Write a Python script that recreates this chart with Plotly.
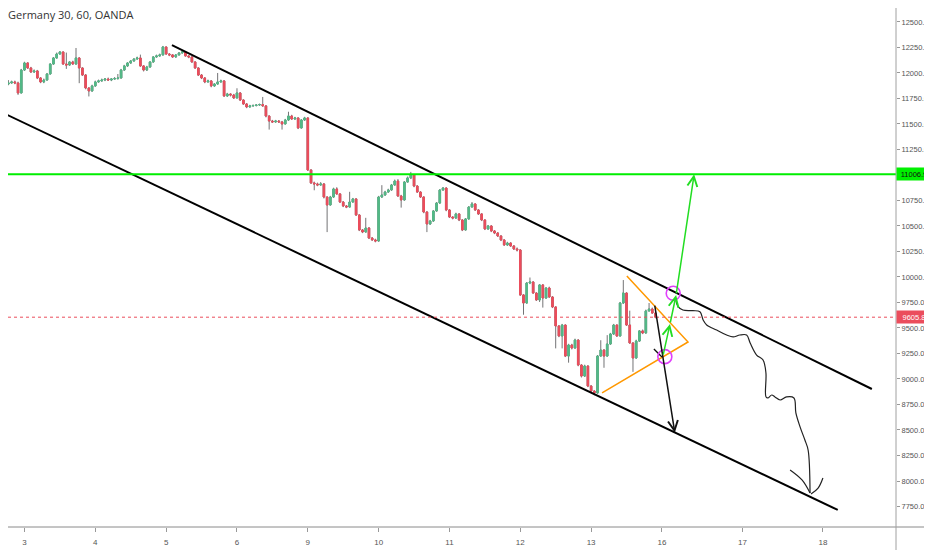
import plotly.graph_objects as go

# hourly candles, Germany 30 (OANDA); open of each bar = previous close
first_open = 11853
closes = [
    11804, 11892, 11902, 11912, 11902, 11804, 12029, 12098, 12049, 12010,
    12020, 11951, 11912, 11931, 11990, 12088, 12147, 12186, 12206, 12088,
    12078, 12108, 12088, 12147, 12049, 11980, 11853, 11824, 11873, 11912,
    11922, 11931, 11941, 11931, 11941, 11945, 11951, 12029, 12069, 12098,
    12118, 12137, 12147, 12069, 12029, 12059, 12108, 12157, 12167, 12177,
    12255, 12186, 12177, 12157, 12177, 12196, 12206, 12167, 12157, 12108,
    12049, 11980, 11951, 11912, 11922, 11873, 11892, 11912, 11922, 11775,
    11794, 11784, 11755, 11804, 11735, 11696, 11667, 11677, 11681, 11686,
    11691, 11677, 11578, 11529, 11520, 11529, 11520, 11500, 11539, 11578,
    11549, 11559, 11461, 11539, 11559, 11049, 10922, 10912, 10902, 10912,
    10784, 10706, 10784, 10863, 10814, 10735, 10696, 10686, 10735, 10765,
    10608, 10461, 10441, 10480, 10382, 10363, 10353, 10784, 10804, 10833,
    10853, 10902, 10941, 10794, 10755, 10931, 10971, 11000, 10892, 10833,
    10784, 10637, 10520, 10549, 10647, 10725, 10853, 10872, 10657, 10588,
    10578, 10618, 10559, 10461, 10569, 10686, 10716, 10657, 10618, 10559,
    10471, 10500, 10451, 10431, 10402, 10363, 10314, 10333, 10304, 10275,
    10265, 9824, 9745, 9941, 9951, 9843, 9775, 9922, 9794, 9892,
    9804, 9706, 9520, 9422, 9529, 9225, 9333, 9304, 9382, 9137,
    9029, 9127, 8931, 8882, 8863, 9225, 9284, 9225, 9343, 9441,
    9529, 9422, 9745, 9843, 9529, 9353, 9206, 9372, 9471, 9451,
    9667, 9686, 9647, 9605.8,
]
highs = [
    11870, 11900, 11930, 11925, 11925, 11915, 12040, 12110, 12105, 12060,
    12035, 12030, 11960, 11945, 12000, 12095, 12155, 12200, 12215, 12210,
    12200, 12115, 12120, 12245, 12155, 12055, 11990, 11860, 11885, 11925,
    11935, 11945, 11950, 11955, 11950, 11960, 11990, 12040, 12080, 12105,
    12125, 12145, 12160, 12180, 12075, 12070, 12115, 12165, 12180, 12190,
    12265, 12260, 12195, 12185, 12185, 12205, 12215, 12212, 12175, 12165,
    12115, 12055, 11990, 11960, 11935, 11930, 11900, 12000, 11935, 11930,
    11805, 11800, 11795, 11850, 11812, 11742, 11705, 11688, 11692, 11695,
    11700, 11765, 11685, 11585, 11540, 11540, 11538, 11530, 11550, 11620,
    11590, 11570, 11565, 11548, 11570, 11565, 11055, 10935, 10925, 10930,
    10920, 10790, 10795, 10875, 10880, 10822, 10745, 10705, 10835, 10775,
    10772, 10615, 10470, 10580, 10490, 10392, 10375, 10795, 10900, 10845,
    10865, 10912, 10955, 10960, 10805, 10940, 10985, 11030, 11010, 10900,
    10840, 10790, 10645, 10560, 10655, 10735, 10860, 10882, 10880, 10665,
    10595, 10630, 10625, 10566, 10578, 10695, 10735, 10722, 10665, 10625,
    10566, 10510, 10508, 10460, 10440, 10410, 10370, 10345, 10340, 10312,
    10290, 10272, 9832, 9950, 9995, 9958, 9850, 9930, 9930, 9900,
    9905, 9812, 9712, 9528, 9540, 9535, 9345, 9345, 9395, 9390,
    9145, 9140, 9135, 8940, 8890, 9235, 9380, 9292, 9430, 9452,
    9540, 9535, 9755, 9970, 9850, 9670, 9360, 9385, 9480, 9485,
    9680, 9745, 9700, 9660,
]
lows = [
    11790, 11795, 11880, 11895, 11890, 11785, 11800, 12020, 12040, 12000,
    12000, 11940, 11900, 11900, 11925, 11985, 12080, 12140, 12180, 12080,
    12040, 12070, 12080, 12080, 11900, 11970, 11840, 11770, 11815, 11865,
    11905, 11915, 11920, 11925, 11920, 11935, 11935, 11945, 12020, 12060,
    12090, 12110, 12130, 12060, 12015, 12020, 12050, 12100, 12150, 12160,
    12170, 12178, 12165, 12148, 12150, 12170, 12190, 12160, 12145, 12100,
    12040, 11970, 11940, 11900, 11905, 11860, 11865, 11885, 11905, 11765,
    11765, 11770, 11745, 11750, 11725, 11688, 11655, 11660, 11670, 11672,
    11678, 11668, 11565, 11445, 11510, 11512, 11510, 11445, 11495, 11530,
    11540, 11540, 11450, 11455, 11530, 11040, 10912, 10850, 10890, 10895,
    10770, 10440, 10700, 10775, 10805, 10725, 10685, 10675, 10680, 10728,
    10598, 10450, 10430, 10435, 10372, 10355, 10340, 10345, 10775, 10795,
    10825, 10845, 10895, 10785, 10680, 10748, 10925, 10960, 10880, 10825,
    10775, 10625, 10440, 10510, 10540, 10640, 10718, 10845, 10645, 10578,
    10565, 10570, 10548, 10450, 10455, 10562, 10680, 10648, 10608, 10548,
    10460, 10462, 10440, 10420, 10392, 10352, 10305, 10305, 10295, 10265,
    10250, 9815, 9630, 9738, 9930, 9835, 9765, 9755, 9700, 9785,
    9795, 9695, 9300, 9410, 9300, 9215, 9160, 9290, 9295, 9125,
    9015, 9020, 8920, 8870, 8840, 8855, 9218, 9110, 9218, 9335,
    9432, 9412, 9415, 9735, 9520, 9345, 9070, 9198, 9365, 9440,
    9445, 9660, 9638, 9595,
]

# day labels (bar index where each day starts)
day_ticks = [7, 29, 51, 73, 95, 117, 139, 161, 183, 205, 230, 255]
day_labels = ["3", "4", "5", "6", "9", "10", "11", "12", "13", "16", "17", "18"]
price_ticks = [7750 + 250 * k for k in range(20)]

resistance = 11006.9

# hand drawn analysis: (bar, price) points
channel_top_x = [52.8, 270.2]
channel_top_y = [12274, 8902]
channel_bottom_x = [-3, 259.6]
channel_bottom_y = [11659, 7716]
triangle_x = [194.1, 213.1, 186.4]
triangle_y = [10010, 9363, 8863]
circles_x = [205.9, 208.5]
circles_y = [9219, 9840]
tick_mark_x = [202.5, 205.0]
tick_mark_y = [9294, 9216]
squiggle_x = [209.3, 210.0, 211.5, 214.6, 216.8, 217.8, 218.9, 222.0, 225.1,
              227.1, 229.2, 231.3, 232.4, 234.4, 236.4, 237.3, 237.3, 237.9,
              239.1, 240.1, 241.7, 243.7, 246.0, 246.6, 247.9, 249.4, 250.4,
              251.0]
squiggle_y = [9775, 9709, 9676, 9670, 9660, 9578, 9530, 9480, 9431,
              9412, 9431, 9431, 9353, 9235, 9186, 9059, 8826, 8814,
              8843, 8824, 8794, 8824, 8814, 8667, 8530, 8402, 8304,
              7882]
wing_left_x = [244.8, 248.5, 251.0]
wing_left_y = [8108, 8010, 7882]
wing_right_x = [255.0, 253.5, 251.3]
wing_right_y = [8030, 7931, 7873]
# arrows: (tail bar, tail price, head bar, head price, colour)
arrows = [
    (202.7, 9735, 209.0, 8473, "#111111"),
    (205.3, 9225, 207.5, 9539, "#22dd22"),
    (207.5, 9539, 209.4, 9824, "#22dd22"),
    (209.4, 9824, 215.0, 11006.9, "#22dd22"),
]

up = "#53b987"
down = "#eb4d5c"
wick = "#737375"
axis_font = dict(family="Liberation Sans, Arial", size=7.5, color="#555555")

opens = [first_open] + closes[:-1]
body_top = [max(o, c) for o, c in zip(opens, closes)]
body_bottom = [min(o, c) for o, c in zip(opens, closes)]
bars = list(range(len(closes)))

fig = go.Figure()
# grey wicks, then coloured bodies on top
fig.add_trace(go.Candlestick(
    x=bars, open=opens, high=highs, low=lows, close=closes,
    increasing=dict(line=dict(color=wick, width=1), fillcolor=up),
    decreasing=dict(line=dict(color=wick, width=1), fillcolor=down),
    whiskerwidth=0, hoverinfo="skip", showlegend=False,
))
fig.add_trace(go.Candlestick(
    x=bars, open=opens, high=body_top, low=body_bottom, close=closes,
    increasing=dict(line=dict(color=up, width=1), fillcolor=up),
    decreasing=dict(line=dict(color=down, width=1), fillcolor=down),
    whiskerwidth=0, hoverinfo="skip", showlegend=False,
))

fig.add_hline(y=resistance, line=dict(color="#00ee00", width=2))
fig.add_hline(y=closes[-1], line=dict(color=down, width=1, dash="dot"))

for xs, ys, col, w, shape in [
    (channel_top_x, channel_top_y, "#000000", 2, "linear"),
    (channel_bottom_x, channel_bottom_y, "#000000", 2, "linear"),
    (triangle_x, triangle_y, "#ff9800", 1.5, "linear"),
    (tick_mark_x, tick_mark_y, "#111111", 1.3, "linear"),
    (squiggle_x, squiggle_y, "#222222", 1.2, "spline"),
    (wing_left_x, wing_left_y, "#222222", 1.2, "spline"),
    (wing_right_x, wing_right_y, "#222222", 1.2, "spline"),
]:
    fig.add_trace(go.Scatter(x=xs, y=ys, mode="lines", line=dict(color=col, width=w, shape=shape),
                             hoverinfo="skip", showlegend=False))

fig.add_trace(go.Scatter(
    x=circles_x, y=circles_y, mode="markers",
    marker=dict(symbol="circle-open", size=14, color="#e040fb", line=dict(width=1.6)),
    hoverinfo="skip", showlegend=False,
))

for tx, ty, hx, hy, col in arrows:
    fig.add_annotation(x=hx, y=hy, ax=tx, ay=ty, xref="x", yref="y", axref="x", ayref="y",
                       text="", showarrow=True, arrowhead=5, arrowsize=1.3, arrowwidth=1.5,
                       arrowcolor=col, standoff=0)

# price tags on the axis
for price, bg, fg in [(resistance, "#00f000", "#111111"), (closes[-1], down, "#ffffff")]:
    fig.add_annotation(x=1, xref="paper", xanchor="left", y=price, yref="y", yanchor="middle",
                       text=f"{price:.1f}", showarrow=False, bgcolor=bg, width=34, height=12,
                       font=dict(family=axis_font["family"], size=7.5, color=fg), borderpad=0)

# page body keeps an 8px margin, so the figure is 8px smaller than the window
W, H = 924, 542
fig.add_shape(type="line", xref="paper", yref="paper", x0=0, x1=W / 888, y0=0, y1=0,
              line=dict(color="#8a8a8a", width=1))
fig.add_shape(type="line", xref="paper", yref="paper", x0=1, x1=1, y0=-23 / 519, y1=1,
              line=dict(color="#a0a0a0", width=1))

fig.update_layout(
    width=W, height=H,
    margin=dict(l=0, r=36, t=0, b=23, autoexpand=False),
    paper_bgcolor="white", plot_bgcolor="white",
    title=dict(text="Germany 30, 60, OANDA", xref="container", yref="container",
               x=0, y=1 - 7 / H, xanchor="left", yanchor="middle",
               font=dict(family="Open Sans, Arial", size=11, color="#333333")),
    xaxis=dict(range=[1.88, 277.7], rangeslider=dict(visible=False), showgrid=False,
               zeroline=False, showline=False, tickmode="array", tickvals=day_ticks,
               ticktext=day_labels, ticks="outside", ticklen=4, tickcolor="#999999",
               tickfont=dict(axis_font, size=8), ticklabelstandoff=3, fixedrange=True,
               automargin=False),
    yaxis=dict(range=[7549, 12637], side="right", showgrid=False, zeroline=False,
               showline=False, tickmode="array", tickvals=price_ticks,
               ticktext=[f"{p:.1f}" for p in price_ticks], ticks="outside", ticklen=3,
               tickcolor="#999999", tickfont=axis_font, ticklabelstandoff=0,
               fixedrange=True, automargin=False),
)

fig.write_html("out.html")
